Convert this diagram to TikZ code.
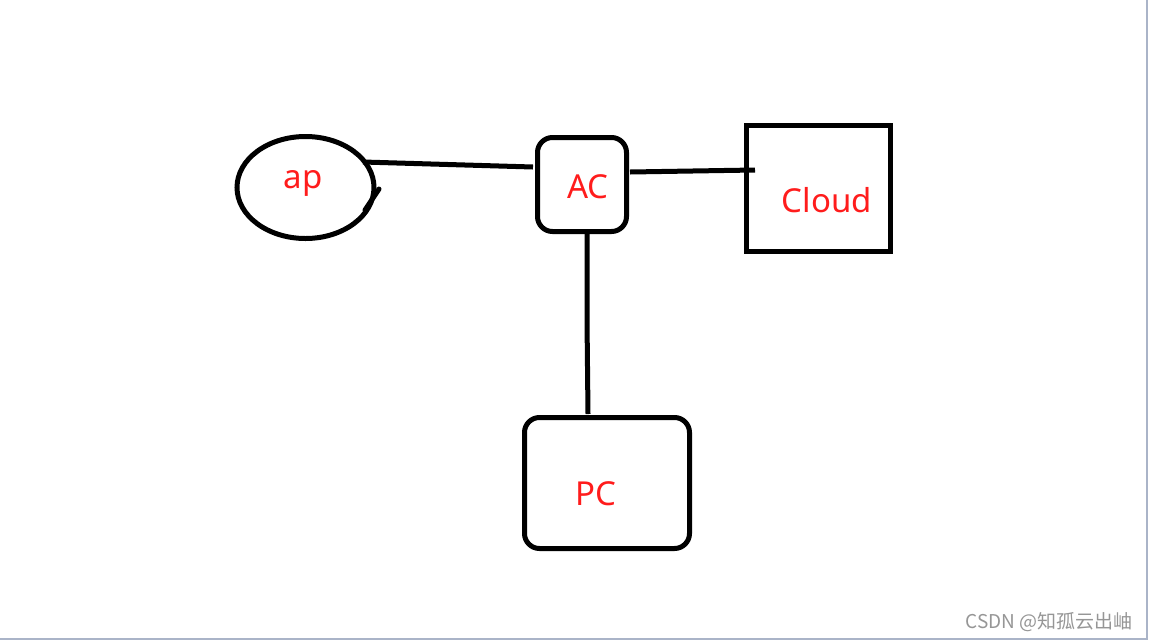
\documentclass[tikz,border=0pt]{standalone}
\usepackage{fontspec}
\usetikzlibrary{shapes.geometric}
\setmainfont{Noto Sans}
\newfontfamily\cjk{Noto Sans CJK SC}
\definecolor{lblred}{RGB}{255,28,28}
\definecolor{wmgray}{RGB}{150,150,150}
\definecolor{edge}{RGB}{170,180,200}
\tikzset{
  dev/.style={draw=black, line width=5pt, inner sep=0pt},
  lbl/.style={text=lblred, font=\fontsize{33}{38}\selectfont},
  wire/.style={draw=black, line width=5pt}
}
\begin{document}
\begin{tikzpicture}[x=1pt,y=-1pt]
\useasboundingbox (0,0) rectangle (1149,641);
\fill[white] (0,0) rectangle (1149,641);
\draw[color=edge, line width=2pt] (1147,0) -- (1147,639) -- (0,639);
% devices
\node[dev, ellipse, minimum width=137pt, minimum height=102pt] (ap) at (305.5,187.5) {};
\node[dev, rounded corners=15pt, minimum width=89pt, minimum height=94pt] (ac) at (582,184.5) {};
\node[dev, minimum width=144pt, minimum height=126pt] (cloud) at (818.5,188.5) {};
\node[dev, rounded corners=15pt, minimum width=165pt, minimum height=131pt] (pc) at (607,483) {};
% labels
\node[lbl] (aptext) at (303,183) {ap};
\node[lbl] (actext) at (588,187) {AC};
\node[lbl] (cloudtext) at (827,200) {Cloud};
\node[lbl] (pctext) at (596,494) {PC};
% connectors
\coordinate (apA) at (363,162);
\coordinate (acL) at (533,167);
\coordinate (acR) at (630,172);
\coordinate (clL) at (755,170);
\coordinate (acB) at (587,230);
\coordinate (pcT) at (588,414);
\draw[wire] (apA) -- (acL);
\draw[wire] (acR) -- (clL);
\draw[wire] (acB) -- (587,320) -- (pcT);
\coordinate (t1) at (379,189);
\coordinate (t2) at (365,210);
\draw[wire, line cap=round] (t1) -- (t2);
% watermark
\node[text=wmgray, font=\cjk\fontsize{19}{22}\selectfont, anchor=east] (wm) at (1136,622) {CSDN @知孤云出岫};
\end{tikzpicture}
\end{document}
